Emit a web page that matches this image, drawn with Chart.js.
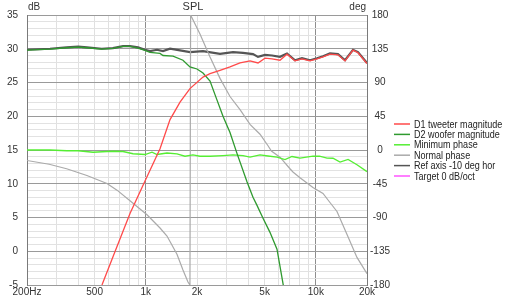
<!DOCTYPE html>
<html>
<head>
<meta charset="utf-8">
<script src="https://cdn.jsdelivr.net/npm/chart.js@4.4.1/dist/chart.umd.min.js"></script>
<style>
  html, body { margin: 0; padding: 0; background: #fff; }
</style>
</head>
<body>
<canvas id="myChart" width="506" height="300"></canvas>
<script>
// x axis: labelled frequencies
const xTickValues = [200, 500, 1000, 2000, 5000, 10000, 20000];
const xTickLabels = ['200Hz', '500', '1k', '2k', '5k', '10k', '20k'];
const xGridValues = [200, 300, 400, 500, 600, 700, 800, 900, 1000, 2000, 3000, 4000, 5000, 6000, 7000, 8000, 9000, 10000, 20000];

const seriesNames = ['D1 tweeter magnitude', 'D2 woofer magnitude', 'Minimum phase', 'Normal phase', 'Ref axis -10 deg hor', 'Target 0 dB/oct'];
const seriesColors = ['#ff4a4a', '#2f9a2f', '#55ee33', '#aaaaaa', '#555555', '#ff55ff'];

// D1 tweeter magnitude (dB)
const d1Freq = [552, 641, 807, 989, 1212, 1388, 1589, 1818, 2169, 2386, 2731, 3127, 3582, 4101, 4570, 5024, 5521, 6155, 6767, 7545, 8293, 9245, 10160, 11020, 12110, 13500, 14850, 16550, 17700, 20000];
const d1Db = [-5, -0.8, 5.6, 10.4, 15.2, 19.5, 22.1, 24.1, 25.8, 26.3, 26.8, 27.3, 27.9, 28.2, 27.9, 28.6, 28.5, 28.3, 29.2, 28.2, 28.5, 28.2, 28.5, 28.8, 29.2, 29.1, 28.2, 29.8, 29.4, 27.8];

// D2 woofer magnitude (dB)
const d2Freq = [200, 273, 342, 400, 451, 550, 640, 734, 807, 900, 989, 1058, 1212, 1262, 1445, 1654, 1818, 2000, 2169, 2386, 2552, 2844, 3127, 3437, 3936, 4270, 4508, 4891, 5374, 5910, 6412, 6600];
const d2Db = [29.8, 29.95, 30.15, 30.25, 30.15, 29.95, 30.05, 30.35, 30.35, 30.1, 29.75, 29.45, 29.3, 29.0, 28.9, 28.3, 27.3, 27.0, 26.4, 25.2, 23.2, 20.0, 17.6, 14.5, 10.3, 8.0, 6.8, 4.9, 2.8, 0.3, -4.8, -6.5];

// Minimum phase (deg)
const minFreq = [200, 273, 342, 400, 489, 591, 641, 734, 841, 989, 1087, 1164, 1332, 1525, 1699, 1893, 2082, 2386, 2844, 3258, 3730, 4101, 4696, 5233, 5910, 6586, 7240, 8070, 9620, 10500, 11640, 12620, 13880, 15480, 17460, 20000];
const minDeg = [0, 0, -1, -1, -3, -2, -1.7, -2, -5, -6, -3, -6, -4, -5.3, -8.3, -6.6, -8.3, -8.3, -7.5, -6.6, -7.5, -9.6, -6.6, -8, -9.6, -12.7, -8.7, -10.9, -8.3, -8.3, -10.9, -11, -16.2, -12.5, -19.7, -28.8];

// Normal phase (deg), wraps at about 1.8 kHz
const normFreq = [200, 270, 342, 450, 591, 677, 841, 1016, 1212, 1332, 1525, 1654, 1770, 1818, 1834, 2082, 2386, 2731, 3127, 3582, 4101, 4696, 5233, 5480, 6155, 7048, 7336, 8070, 9620, 11020, 12110, 13320, 15260, 17460, 20000];
const normDeg = [-14, -19, -25, -34, -44.7, -53.5, -71, -86.3, -104, -114.7, -138.9, -160, -176, -180, 180, 154.6, 123.9, 95.5, 71.3, 53.9, 34.2, 21, 5.7, -1.4, -9.6, -25, -29.3, -37, -50, -58, -70, -82, -112.6, -143.2, -165];

// Ref axis -10 deg hor (dB)
const refFreq = [200, 273, 342, 400, 451, 550, 640, 734, 807, 900, 989, 1058, 1164, 1262, 1388, 1589, 1818, 2169, 2731, 3258, 3730, 4270, 4570, 5024, 5521, 6155, 6767, 7545, 8293, 9245, 10160, 11020, 12110, 13500, 14850, 16550, 17700, 20000];
const refDb = [29.85, 30.0, 30.2, 30.3, 30.2, 30.0, 30.1, 30.4, 30.4, 30.2, 29.85, 29.65, 29.85, 29.65, 30.0, 29.75, 29.5, 29.65, 29.25, 29.5, 29.4, 29.2, 28.8, 29.1, 29.0, 28.8, 29.3, 28.3, 28.6, 28.3, 28.6, 28.9, 29.3, 29.2, 28.3, 29.85, 29.5, 27.9];

const pts = (xs, ys) => xs.map((x, i) => ({ x, y: ys[i] }));
const FONT = '"Liberation Sans", Arial, sans-serif';

const overlay = {
  id: 'overlay',
  afterDraw(chart) {
    const { ctx } = chart;
    ctx.save();
    ctx.fillStyle = '#333';
    ctx.font = '10px ' + FONT;
    ctx.textBaseline = 'middle';
    ctx.textAlign = 'left';
    ctx.fillText('dB', 28, 7);
    ctx.textAlign = 'center';
    ctx.font = '11px ' + FONT;
    ctx.fillText('SPL', 193, 7);
    ctx.font = '10px ' + FONT;
    ctx.textAlign = 'right';
    ctx.fillText('deg', 366, 7);

    // legend
    chart.data.datasets.forEach((ds, i) => {
      const y = 124 + i * 10.4;
      ctx.strokeStyle = ds.borderColor;
      ctx.lineWidth = 1.5;
      ctx.beginPath();
      ctx.moveTo(394, y);
      ctx.lineTo(410, y);
      ctx.stroke();
      ctx.save();
      ctx.translate(414, y);
      ctx.scale(0.82, 1);
      ctx.font = '11px ' + FONT;
      ctx.textAlign = 'left';
      ctx.fillStyle = '#222';
      ctx.fillText(ds.label, 0, 0.5);
      ctx.restore();
    });
    ctx.restore();
  }
};

const mk = (i, data, axis, width) => ({
  label: seriesNames[i],
  data,
  yAxisID: axis,
  borderColor: seriesColors[i],
  backgroundColor: seriesColors[i],
  borderWidth: width,
  pointRadius: 0,
  tension: 0,
  fill: false,
});

new Chart(document.getElementById('myChart').getContext('2d'), {
  type: 'line',
  data: {
    datasets: [
      mk(0, pts(d1Freq, d1Db), 'y', 1.3),
      mk(1, pts(d2Freq, d2Db), 'y', 1.3),
      mk(2, pts(minFreq, minDeg), 'y2', 1.3),
      mk(3, pts(normFreq, normDeg), 'y2', 1.2),
      mk(4, pts(refFreq, refDb), 'y', 2.2),
      mk(5, [], 'y', 1.3),
    ],
  },
  options: {
    responsive: false,
    animation: false,
    layout: { padding: { top: 14, left: 0, right: 0, bottom: 0 } },
    plugins: { legend: { display: false }, tooltip: { enabled: false } },
    scales: {
      x: {
        type: 'logarithmic',
        min: 200,
        max: 20000,
        afterBuildTicks: s => { s.ticks = xGridValues.map(v => ({ value: v })); },
        afterFit: s => { s.height = 12; },
        ticks: {
          autoSkip: false,
          maxRotation: 0,
          padding: 1,
          color: '#333',
          font: { family: FONT, size: 10 },
          callback: v => {
            const i = xTickValues.indexOf(v);
            return i >= 0 ? xTickLabels[i] : '';
          },
        },
        grid: {
          drawTicks: false,
          color: c => (c.tick && (c.tick.value === 1000 || c.tick.value === 10000)) ? '#8e8e8e' : '#e0e0e0',
        },
        border: { display: false },
      },
      y: {
        position: 'left',
        min: -5,
        max: 35,
        afterFit: s => { s.width = 27; },
        ticks: {
          stepSize: 1,
          autoSkip: false,
          padding: 9,
          color: '#333',
          font: { family: FONT, size: 10 },
          callback: v => (v % 5 === 0 ? v : ''),
        },
        grid: {
          drawTicks: false,
          color: c => (c.tick && c.tick.value % 5 === 0) ? '#9a9a9a' : '#e2e2e2',
        },
        border: { color: '#7a7a7a' },
      },
      y2: {
        position: 'right',
        min: -180,
        max: 180,
        afterFit: s => { s.width = 139; },
        ticks: {
          stepSize: 45,
          autoSkip: false,
          padding: 3,
          crossAlign: 'center',
          color: '#333',
          font: { family: FONT, size: 10 },
        },
        grid: { drawOnChartArea: false, drawTicks: false },
        border: { color: '#7a7a7a' },
      },
    },
  },
  plugins: [overlay],
});
</script>
</body>
</html>
